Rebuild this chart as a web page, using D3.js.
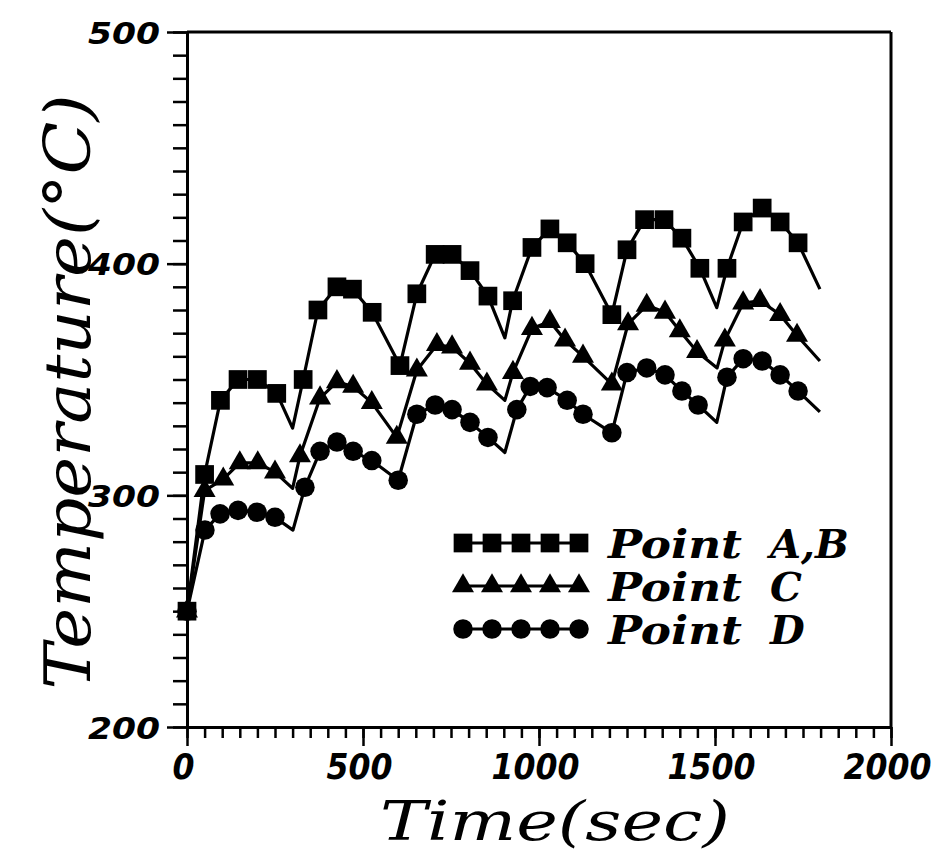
<!DOCTYPE html>
<html>
<head>
<meta charset="utf-8">
<script src="https://cdn.jsdelivr.net/npm/d3@7"></script>
<style>
  body { margin: 0; background: #fff; }
</style>
</head>
<body>
<div id="plot"></div>
<script>
// Point A,B (squares): marker positions, then line-only knots (dips, end)
const timeAB = [0, 50, 95, 145, 200, 255, 330, 372, 426, 470, 526, 605, 653, 705, 753, 804, 855, 925, 980, 1031, 1080, 1131, 1207, 1250, 1300, 1355, 1406, 1457, 1534, 1580, 1634, 1685, 1736];
const tempAB = [250, 309, 341, 350, 350, 344, 350, 380, 390, 389, 379, 356, 387, 404, 404, 397, 386, 384, 407, 415, 409, 400, 378, 406, 419, 419, 411, 398, 398, 418, 424, 418, 409];
const knotTimeAB = [300, 903, 1505, 1798];
const knotTempAB = [329, 368, 381, 389];

// Point C (triangles)
const timeC = [0, 50, 103, 150, 201, 250, 321, 378, 426, 472, 525, 596, 653, 710, 753, 804, 852, 926, 980, 1031, 1074, 1125, 1207, 1253, 1306, 1358, 1400, 1449, 1528, 1580, 1628, 1685, 1733];
const tempC = [250, 302, 307, 314, 314, 310, 317, 342, 349, 347, 340, 325, 354, 365, 364, 357, 348, 353, 372, 375, 367, 360, 348, 374, 382, 379, 371, 362, 367, 383, 384, 378, 369];
const knotTimeC = [300, 903, 1506, 1798];
const knotTempC = [303, 341, 355, 358];

// Point D (circles)
const timeD = [0, 51, 94, 145, 199, 250, 335, 378, 426, 472, 525, 600, 653, 705, 753, 804, 855, 937, 975, 1023, 1080, 1125, 1207, 1250, 1306, 1358, 1406, 1452, 1534, 1580, 1634, 1685, 1736];
const tempD = [250, 285, 292, 293.5, 292.7, 290.5, 303.5, 319, 323, 319, 315, 306.5, 335, 339, 337, 331.5, 325, 337, 347, 346.5, 341, 335, 327, 353, 355, 352, 345, 339, 351, 359, 358, 352, 345];
const knotTimeD = [301, 903, 1505, 1798];
const knotTempD = [285, 318.5, 331.5, 336];

const legendNames = ["A,B", "C", "D"];
const xMajor = [0, 500, 1000, 1500, 2000];
const yMajor = [200, 300, 400, 500];

const series = [
    { name: legendNames[0], t: timeAB, v: tempAB, kt: knotTimeAB, kv: knotTempAB, shape: d3.symbolSquare, size: 350 },
    { name: legendNames[1], t: timeC, v: tempC, kt: knotTimeC, kv: knotTempC, shape: d3.symbolTriangle, size: 210 },
    { name: legendNames[2], t: timeD, v: tempD, kt: knotTimeD, kv: knotTempD, shape: d3.symbolCircle, size: 300 }
];

const W = 945, H = 855;
const margin = { top: 32, right: 54, bottom: 128, left: 187 },
    width = W - margin.left - margin.right,
    height = H - margin.top - margin.bottom;

const svg = d3.select("#plot")
    .append("svg")
    .attr("width", W)
    .attr("height", H);

const g = svg.append("g")
    .attr("transform", "translate(" + margin.left + "," + margin.top + ")");

const x = d3.scaleLinear().domain([0, 2000]).range([0, width]);
const y = d3.scaleLinear().domain([200, 500]).range([height, 0]);

// minor ticks
g.append("g")
    .attr("transform", "translate(0," + height + ")")
    .call(d3.axisBottom(x).tickValues(d3.range(0, 2001, 50)).tickSize(11).tickSizeOuter(0).tickFormat(""))
    .call(a => a.select(".domain").remove());
g.append("g")
    .call(d3.axisLeft(y).tickValues(d3.range(200, 501, 10)).tickSize(14).tickSizeOuter(0).tickFormat(""))
    .call(a => a.select(".domain").remove());

// major ticks + labels
const xAxis = g.append("g")
    .attr("transform", "translate(0," + height + ")")
    .call(d3.axisBottom(x).tickValues(xMajor).tickSize(19).tickSizeOuter(0).tickFormat(d3.format("d")));
xAxis.selectAll("text")
    .attr("x", -4)
    .attr("y", 52)
    .attr("dy", null)
    .attr("font-family", "DejaVu Sans")
    .attr("font-weight", "bold")
    .attr("font-style", "italic")
    .attr("font-size", 35)
    .attr("textLength", d => String(d).length * 22)
    .attr("lengthAdjust", "spacingAndGlyphs");

const yAxis = g.append("g")
    .call(d3.axisLeft(y).tickValues(yMajor).tickSize(20).tickSizeOuter(0).tickFormat(d3.format("d")));
yAxis.selectAll("text")
    .attr("x", -27)
    .attr("dy", "0.36em")
    .attr("font-family", "DejaVu Sans")
    .attr("font-weight", "bold")
    .attr("font-style", "italic")
    .attr("font-size", 31)
    .attr("textLength", 72)
    .attr("lengthAdjust", "spacingAndGlyphs");

svg.selectAll(".tick line").attr("stroke", "#000").attr("stroke-width", 2.5);
svg.selectAll(".domain").attr("stroke", "#000").attr("stroke-width", 3);

// top and right frame
g.append("line")
    .attr("x1", x(0)).attr("x2", x(2000)).attr("y1", y(500)).attr("y2", y(500))
    .attr("stroke", "#000").attr("stroke-width", 3);
g.append("line")
    .attr("x1", x(2000)).attr("x2", x(2000)).attr("y1", y(500)).attr("y2", y(200))
    .attr("stroke", "#000").attr("stroke-width", 3);

// curves
const line = d3.line()
    .x(d => x(d[0]))
    .y(d => y(d[1]));

series.forEach(s => {
    const pts = s.t.map((t, i) => [t, s.v[i]])
        .concat(s.kt.map((t, i) => [t, s.kv[i]]))
        .sort((a, b) => a[0] - b[0]);
    g.append("path")
        .datum(pts)
        .attr("fill", "none")
        .attr("stroke", "#000")
        .attr("stroke-width", 3.2)
        .attr("stroke-linejoin", "round")
        .attr("d", line);

    const sym = d3.symbol().type(s.shape).size(s.size);
    g.selectAll(null)
        .data(s.t.map((t, i) => [t, s.v[i]]))
        .enter()
        .append("path")
        .attr("d", sym)
        .attr("fill", "#000")
        .attr("transform", d => "translate(" + x(d[0]) + "," + y(d[1]) + ")");
});

// legend
const legendRowY = [543, 586, 629];
const legendX = d3.range(5).map(i => 463 + i * 29);
series.forEach((s, i) => {
    const ly = legendRowY[i];
    svg.append("line")
        .attr("x1", legendX[0]).attr("x2", legendX[4])
        .attr("y1", ly).attr("y2", ly)
        .attr("stroke", "#000").attr("stroke-width", 3);
    const sym = d3.symbol().type(s.shape).size(s.size);
    legendX.forEach(lx => {
        svg.append("path")
            .attr("d", sym)
            .attr("fill", "#000")
            .attr("transform", "translate(" + lx + "," + ly + ")");
    });
    svg.append("text")
        .attr("x", 608).attr("y", ly + 15)
        .attr("font-family", "DejaVu Serif")
        .attr("font-weight", "bold")
        .attr("font-style", "italic")
        .attr("font-size", 40)
        .attr("textLength", 134)
        .attr("lengthAdjust", "spacingAndGlyphs")
        .text("Point");
    svg.append("text")
        .attr("x", 770).attr("y", ly + 15)
        .attr("font-family", "DejaVu Serif")
        .attr("font-weight", "bold")
        .attr("font-style", "italic")
        .attr("font-size", 40)
        .text(s.name);
});

// axis titles
svg.append("text")
    .attr("x", 380).attr("y", 840)
    .attr("font-family", "DejaVu Serif")
    .attr("font-style", "italic")
    .attr("font-size", 55)
    .attr("textLength", 350)
    .attr("lengthAdjust", "spacingAndGlyphs")
    .text("Time(sec)");

svg.append("text")
    .attr("transform", "translate(90,392) rotate(-90)")
    .attr("text-anchor", "middle")
    .attr("font-family", "DejaVu Serif")
    .attr("font-style", "italic")
    .attr("font-size", 64)
    .attr("textLength", 595)
    .attr("lengthAdjust", "spacingAndGlyphs")
    .text("Temperature(°C)");
</script>
</body>
</html>
